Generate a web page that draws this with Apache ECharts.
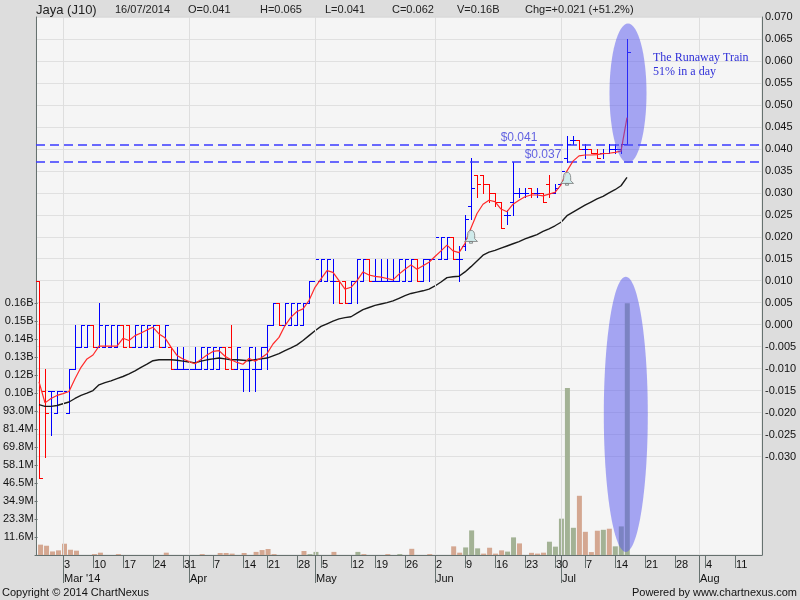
<!DOCTYPE html>
<html><head><meta charset="utf-8">
<script src="https://cdn.jsdelivr.net/npm/echarts@6/dist/echarts.min.js"></script>
<style>html,body{margin:0;padding:0;background:#dddddd;}#c{width:800px;height:600px;}</style>
</head><body><div id="c"></div>
<script>
// ---- categories: trading days (2014) ----
const daysFeb = [25,26,27,28];
const daysMar = [3,4,5,6,7,10,11,12,13,14,17,18,19,20,21,24,25,26,27,28,31];
const daysApr = [1,2,3,4,7,8,9,10,11,14,15,16,17,21,22,23,24,25,28,29,30];
const daysMay = [2,5,6,7,8,9,12,14,15,16,19,20,21,22,23,26,27,28,29,30];
const daysJun = [2,3,4,5,6,9,10,11,12,13,16,17,18,19,20,23,24,25,26,27,30];
const daysJul = [1,2,3,4,7,8,9,10,11,14,15,16,17,18,21,22,23,24,25,28,29,30,31];
const daysAug = [1,4,5,6,7,8,11,12,13,14,15];
const monthNames = ["Mar '14","Apr","May","Jun","Jul","Aug"];

// ---- OHLC ----
const open = [0.010,-0.015,-0.015,-0.020,-0.015,-0.020,-0.010,-0.005,-0.005,0.000,
 -0.005,-0.005,-0.005,-0.005,0.000,0.000,-0.005,-0.005,-0.005,-0.005,
 0.000,-0.005,-0.005,-0.010,-0.010,-0.010,-0.010,-0.010,-0.010,-0.010,
 -0.010,-0.005,-0.005,-0.010,-0.010,-0.010,-0.010,-0.010,-0.005,0.000,
 0.005,0.000,0.000,0.000,0.000,0.005,0.010,0.010,0.010,0.010,
 0.010,0.010,0.005,0.010,0.010,0.015,0.010,0.010,0.010,0.010,
 0.010,0.010,0.010,0.015,0.010,0.015,0.015,0.015,0.015,0.020,
 0.015,0.018,0.027,0.034,0.034,0.032,0.030,0.028,0.025,0.028,
 0.030,0.030,0.031,0.030,0.030,0.032,0.030,0.032,0.038,0.042,
 0.042,0.040,0.040,0.039,0.039,0.039,0.040,0.040,0.041];
const high = [0.010,-0.010,-0.015,-0.015,-0.015,-0.010,0.000,0.000,0.000,0.000,
 0.005,0.000,0.000,0.000,0.000,0.000,0.000,0.000,0.000,0.000,
 0.000,0.000,-0.005,-0.005,-0.005,-0.005,-0.005,-0.005,-0.005,-0.005,
 -0.005,-0.005,0.000,-0.005,-0.010,-0.005,-0.005,-0.005,0.000,0.005,
 0.005,0.005,0.005,0.005,0.005,0.010,0.015,0.015,0.015,0.015,
 0.010,0.010,0.010,0.015,0.015,0.015,0.015,0.015,0.015,0.015,
 0.015,0.015,0.015,0.015,0.015,0.015,0.020,0.020,0.020,0.020,
 0.018,0.025,0.038,0.034,0.034,0.032,0.030,0.028,0.026,0.037,
 0.031,0.031,0.031,0.031,0.030,0.034,0.032,0.037,0.043,0.043,
 0.042,0.041,0.040,0.040,0.040,0.041,0.041,0.041,0.065];
const low = [-0.035,-0.030,-0.025,-0.020,-0.020,-0.020,-0.010,-0.005,-0.005,-0.005,
 -0.005,-0.005,-0.005,-0.005,-0.005,-0.005,-0.005,-0.005,-0.005,-0.005,
 -0.005,-0.005,-0.010,-0.010,-0.010,-0.010,-0.010,-0.010,-0.010,-0.010,
 -0.010,-0.010,-0.010,-0.010,-0.015,-0.015,-0.015,-0.010,-0.010,0.000,
 0.000,0.000,0.000,0.000,0.000,0.005,0.005,0.010,0.010,0.005,
 0.005,0.005,0.005,0.005,0.010,0.010,0.010,0.010,0.010,0.010,
 0.010,0.010,0.010,0.010,0.010,0.010,0.015,0.015,0.015,0.015,
 0.010,0.017,0.024,0.029,0.030,0.028,0.027,0.022,0.023,0.025,
 0.029,0.029,0.029,0.029,0.028,0.029,0.030,0.031,0.037,0.041,
 0.040,0.038,0.039,0.038,0.038,0.039,0.039,0.039,0.041];
const close = [-0.035,-0.020,-0.015,-0.015,-0.015,-0.010,-0.005,0.000,0.000,-0.005,
 0.000,0.000,0.000,0.000,-0.005,-0.005,0.000,0.000,0.000,0.000,
 -0.005,0.000,-0.010,-0.010,-0.010,-0.010,-0.010,-0.005,-0.005,-0.005,
 -0.005,-0.010,-0.010,-0.005,-0.010,-0.005,-0.010,-0.005,0.000,0.005,
 0.000,0.005,0.005,0.005,0.005,0.010,0.015,0.015,0.015,0.010,
 0.005,0.005,0.010,0.015,0.015,0.010,0.010,0.010,0.010,0.010,
 0.015,0.015,0.015,0.010,0.015,0.015,0.020,0.020,0.020,0.015,
 0.015,0.024,0.031,0.032,0.032,0.030,0.028,0.022,0.025,0.030,
 0.030,0.030,0.030,0.030,0.028,0.030,0.031,0.035,0.041,0.042,
 0.040,0.040,0.039,0.038,0.039,0.040,0.040,0.041,0.062];

// ---- moving averages ----
const maShort = [-0.0130,-0.0178,-0.0168,-0.0161,-0.0157,-0.0152,-0.0123,-0.0097,-0.0078,-0.0069,
 -0.0049,-0.0049,-0.0049,-0.0049,-0.0031,-0.0036,-0.0025,-0.0019,-0.0012,-0.0006,
 -0.0021,-0.0030,-0.0051,-0.0070,-0.0078,-0.0084,-0.0089,-0.0079,-0.0069,-0.0061,
 -0.0059,-0.0072,-0.0080,-0.0086,-0.0090,-0.0077,-0.0083,-0.0076,-0.0066,-0.0044,
 -0.0029,-0.0002,0.0017,0.0030,0.0036,0.0055,0.0085,0.0104,0.0123,0.0119,
 0.0100,0.0081,0.0085,0.0100,0.0120,0.0113,0.0110,0.0108,0.0105,0.0102,
 0.0115,0.0126,0.0136,0.0126,0.0134,0.0142,0.0155,0.0168,0.0181,0.0168,
 0.0164,0.0185,0.0220,0.0253,0.0274,0.0283,0.0280,0.0263,0.0257,0.0274,
 0.0283,0.0291,0.0295,0.0295,0.0293,0.0297,0.0301,0.0318,0.0350,0.0372,
 0.0384,0.0386,0.0386,0.0387,0.0389,0.0390,0.0392,0.0395,0.0471];
const maLong = [-0.0182,-0.0186,-0.0186,-0.0184,-0.0180,-0.0176,-0.0168,-0.0161,-0.0156,-0.0150,
 -0.0137,-0.0132,-0.0128,-0.0123,-0.0118,-0.0112,-0.0105,-0.0097,-0.0090,-0.0082,
 -0.0080,-0.0080,-0.0080,-0.0081,-0.0083,-0.0085,-0.0087,-0.0083,-0.0080,-0.0078,
 -0.0076,-0.0078,-0.0080,-0.0080,-0.0081,-0.0082,-0.0080,-0.0078,-0.0076,-0.0071,
 -0.0066,-0.0059,-0.0053,-0.0046,-0.0036,-0.0025,-0.0014,-0.0004,0.0002,0.0008,
 0.0013,0.0016,0.0018,0.0026,0.0034,0.0039,0.0044,0.0047,0.0050,0.0054,
 0.0060,0.0066,0.0071,0.0074,0.0077,0.0081,0.0088,0.0097,0.0107,0.0109,
 0.0110,0.0120,0.0132,0.0145,0.0158,0.0165,0.0169,0.0174,0.0179,0.0184,
 0.0189,0.0195,0.0200,0.0205,0.0212,0.0218,0.0225,0.0233,0.0248,0.0256,
 0.0264,0.0272,0.0279,0.0286,0.0292,0.0300,0.0307,0.0316,0.0335];

// ---- volume (millions) and bar colour key (t = tan, g = green) ----
const volume = [6.7,6.0,2.3,3.0,7.3,3.4,2.8,0,0,0.6,
 1.5,0,0,0.6,0,0,0,0,0,0,
 0,1.5,0,0,0,0,0,0.6,0,0,
 1.3,1.3,0.9,0,1.3,0,2.0,3.2,3.9,0.6,
 0,0,0,0,2.6,0.6,2.0,0,0,2.0,
 0,0,0,2.0,0.6,0,0,0,0.6,0,
 0.6,0,4.0,0,0,0.6,0,0,0,5.6,
 1.5,4.9,15.9,4.3,0.9,4.7,0.9,3.0,2.2,11.4,
 7.5,0,1.4,0.9,1.5,8.6,5.4,23.5,108.0,17.6,
 38.3,15.0,1.9,15.7,16.3,17.0,5.6,18.5,162.8];
const volumeColorKey = ('tttttttttt'+'tttttttttt'+'tttttttttt'+'tttttttttt'+'tttttggttt'+
 'tttgtttttt'+'gttttttttt'+'tgggttttgg'+'tttttggggg'+'ttttgtggg').split('');

// ---- annotations ----
const levels = [0.041, 0.037];
const levelLabelDay = [80, 84];
const alerts = [[72, 0.0200], [88, 0.0332]];
const priceHighlight = [0.0685, 0.0368];   // price range of the upper oval
const volumeHighlight = [180, 2];          // volume range of the lower oval (M)
const volumeTop = 162.8;                   // top label of volume axis (M)

// ---- build ----
const dates = [];
[[2,daysFeb],[3,daysMar],[4,daysApr],[5,daysMay],[6,daysJun],[7,daysJul],[8,daysAug]].forEach(([m,arr])=>{
  arr.forEach(d=>dates.push('2014-'+String(m).padStart(2,'0')+'-'+String(d).padStart(2,'0')));
});
const wd = s => new Date(s+'T00:00:00Z').getUTCDay();
const isWeekStart = i => i>0 && wd(dates[i]) < wd(dates[i-1]);
const isMonthStart = i => i>0 && dates[i].slice(5,7) !== dates[i-1].slice(5,7);
const monthStartIdx = dates.map((d,i)=>i).filter(isMonthStart);
const monthLabel = {}; monthStartIdx.forEach((i,k)=>monthLabel[dates[i]] = monthNames[k]);

const ohlc = open.map((o,i)=>[i,o,high[i],low[i],close[i]]);
const volStep = volumeTop/14;
const axisCol = '#66716f';
const FONT = '"Liberation Sans", Arial, sans-serif';
const UP = '#0000ff', DOWN = '#ff0000';

const L = 36, R = 38, T = 17, B = 45;

const option = {
  backgroundColor: '#dddddd',
  animation: false,
  grid: [
    {left:L, right:R, top:T, bottom:B, show:true, backgroundColor:'#f5f5f5', borderColor:'#d6d6d6', borderWidth:1},
    {left:L, right:R, top:T, bottom:143.5},
    {left:L, right:R, top:303.3, bottom:B}
  ],
  xAxis: [
    {gridIndex:0, type:'category', data:dates, boundaryGap:true,
     axisLine:{show:true, lineStyle:{color:axisCol, width:1}},
     axisTick:{show:true, alignWithLabel:true, interval:(i)=>isWeekStart(i), length:13, lineStyle:{color:axisCol}},
     axisLabel:{show:true, interval:(i)=>isWeekStart(i), formatter:v=>String(Number(v.slice(8))),
       align:'left', margin:4, padding:[0,0,0,1], fontSize:11, color:'#111', fontFamily:FONT},
     splitLine:{show:false}},
    {gridIndex:0, type:'category', data:dates, boundaryGap:true, position:'bottom',
     axisLine:{show:false},
     axisTick:{show:true, alignWithLabel:true, interval:(i)=>isMonthStart(i), length:28, lineStyle:{color:axisCol}},
     axisLabel:{show:true, interval:(i)=>isMonthStart(i), formatter:v=>monthLabel[v]||'',
       align:'left', margin:18, padding:[0,0,0,1], fontSize:11, color:'#111', fontFamily:FONT},
     splitLine:{show:false}},
    {gridIndex:1, type:'category', data:dates, boundaryGap:true, show:false},
    {gridIndex:2, type:'category', data:dates, boundaryGap:true, show:false}
  ],
  yAxis: [
    {gridIndex:0, type:'value', min:0, max:1, position:'left',
     axisLine:{show:true, lineStyle:{color:axisCol}}, axisTick:{show:false}, axisLabel:{show:false}, splitLine:{show:false}},
    {gridIndex:0, type:'value', min:0, max:1, position:'right',
     axisLine:{show:true, lineStyle:{color:axisCol}}, axisTick:{show:false}, axisLabel:{show:false}, splitLine:{show:false}},
    {gridIndex:1, type:'value', min:-0.030, max:0.070, interval:0.005, position:'right',
     axisLine:{show:false}, axisTick:{show:false},
     axisLabel:{margin:3, fontSize:11, color:'#111', fontFamily:FONT, formatter:v=>v.toFixed(3)},
     splitLine:{show:true, lineStyle:{color:'#e0e0e0', width:1}}},
    {gridIndex:2, type:'value', min:0, max:volumeTop, interval:volStep, position:'left',
     axisLine:{show:false}, axisTick:{show:true, length:3, lineStyle:{color:axisCol}},
     axisLabel:{margin:4, fontSize:11, color:'#111', fontFamily:FONT,
       formatter:v=> v<0.01 ? '' : (v>=99.5 ? (v/1000).toFixed(2)+'B' : v.toFixed(1)+'M')},
     splitLine:{show:false}}
  ],
  series: [
    {type:'line', xAxisIndex:0, yAxisIndex:0, data:dates.map(()=>null), silent:true, z:1,
     markLine:{silent:true, symbol:'none', label:{show:false},
       lineStyle:{color:'#dedede', width:1, type:'solid'},
       data: monthStartIdx.map(i=>({xAxis:dates[i]}))}},
    {type:'custom', xAxisIndex:2, yAxisIndex:2, data:ohlc, z:3, clip:false, silent:true,
     encode:{x:0, y:[1,2,3,4]},
     itemStyle:{color:UP},
     renderItem:(params, api)=>{
       const i = api.value(0), o = api.value(1), h = api.value(2), l = api.value(3), c = api.value(4);
       const ph = api.coord([i,h]), pl = api.coord([i,l]), po = api.coord([i,o]), pc = api.coord([i,c]);
       const x = Math.round(ph[0]) + 0.5;
       const yh = Math.round(ph[1]), yl = Math.round(pl[1]);
       const yo = Math.round(po[1]) + 0.5, yc = Math.round(pc[1]) + 0.5;
       const col = c < o ? DOWN : UP;
       const path = 'M' + (x-3.5) + ' ' + yo + 'L' + x + ' ' + yo +
                    'M' + x + ' ' + yh + 'L' + x + ' ' + (yl+1) +
                    'M' + x + ' ' + yc + 'L' + (x+3.5) + ' ' + yc;
       return {type:'path', shape:{pathData:path}, style:{stroke:col, fill:'none', lineWidth:1}};
     }},
    {type:'line', xAxisIndex:2, yAxisIndex:2, data:maLong, showSymbol:false, z:4, silent:true,
     lineStyle:{color:'#1a1a1a', width:1.4},
     markLine:{silent:true, symbol:'none', precision:3, label:{show:false},
       lineStyle:{color:'#3a3aff', type:[9,5], width:1.6},
       data: levels.map(v=>({yAxis:v}))}},
    {type:'line', xAxisIndex:2, yAxisIndex:2, data:maShort, showSymbol:false, z:5, silent:true,
     lineStyle:{color:'#ff2a2a', width:1.2}},
    {type:'scatter', xAxisIndex:2, yAxisIndex:2, symbolSize:0, z:6, silent:true,
     data: levels.map((v,k)=>[levelLabelDay[k], v]),
     label:{show:true, position:'top', distance:1, formatter:p=>'$'+p.value[1].toFixed(3),
       color:'#3c3cdc', fontSize:12, fontFamily:FONT}},
    {type:'scatter', xAxisIndex:2, yAxisIndex:2, z:7, silent:true, data:alerts,
     symbol:'path://M7,0.5 C4.6,0.5 3.6,2.6 3.6,5 L3.6,7.6 L1,10 L13,10 L10.4,7.6 L10.4,5 C10.4,2.6 9.4,0.5 7,0.5 Z M5.6,10 L5.6,11.5 L8.4,11.5 L8.4,10 Z',
     symbolSize:[13,13], itemStyle:{color:'#c6e8e8', borderColor:'#7c7c7c', borderWidth:1}},
    {type:'bar', xAxisIndex:3, yAxisIndex:3, data:volume, barWidth:5, z:3, silent:true,
     itemStyle:{color:p=> volumeColorKey[p.dataIndex]==='g' ? '#a3b295' : '#d4a791'}}
  ]
};

const chart = echarts.init(document.getElementById('c'), null, {renderer:'canvas'});
chart.setOption(option);

const last = open.length - 1;
const pT = chart.convertToPixel({seriesIndex:1}, [last, priceHighlight[0]]);
const pB = chart.convertToPixel({seriesIndex:1}, [last, priceHighlight[1]]);
const vT = chart.convertToPixel({seriesIndex:6}, [last, volumeHighlight[0]]);
const vB = chart.convertToPixel({seriesIndex:6}, [last, volumeHighlight[1]]);

const chg = close[last] - close[last-1];
const pct = chg / close[last-1] * 100;
const d = dates[last];
// [left x, text, font size]
const hdr = [
  [36, 'Jaya (J10)', 13],
  [115, d.slice(8,10)+'/'+d.slice(5,7)+'/'+d.slice(0,4), 11],
  [188, 'O='+open[last].toFixed(3), 11],
  [260, 'H='+high[last].toFixed(3), 11],
  [325, 'L='+low[last].toFixed(3), 11],
  [392, 'C='+close[last].toFixed(3), 11],
  [457, 'V='+(volume[last]/1000).toFixed(2)+'B', 11],
  [525, 'Chg='+(chg>=0?'+':'')+chg.toFixed(3)+' ('+(pct>=0?'+':'')+pct.toFixed(1)+'%)', 11]
];
const graphics = hdr.map(h=>({type:'text', z:50,
  style:{text:h[1], x:h[0], y:10, verticalAlign:'middle', font:h[2]+'px '+FONT, fill:'#222'}}));
graphics.push(
  {type:'text', z:50, style:{text:'Copyright \u00a9 2014 ChartNexus', x:2, y:593, verticalAlign:'middle', font:'11px '+FONT, fill:'#111'}},
  {type:'text', z:50, style:{text:'Powered by www.chartnexus.com', x:797, y:593, align:'right', verticalAlign:'middle', font:'11px '+FONT, fill:'#111'}},
  {type:'ellipse', z:60, silent:true, shape:{cx:pT[0]+1, cy:(pT[1]+pB[1])/2, rx:18.5, ry:(pB[1]-pT[1])/2}, style:{fill:'rgba(84,84,240,0.5)'}},
  {type:'ellipse', z:60, silent:true, shape:{cx:vT[0]-1.5, cy:(vT[1]+vB[1])/2, rx:22, ry:(vB[1]-vT[1])/2}, style:{fill:'rgba(84,84,240,0.5)'}},
  {type:'text', z:61, style:{text:'The Runaway Train\n51% in a day', x:653, y:51, lineHeight:14,
    font:'12px "Liberation Serif", "Times New Roman", serif', fill:'#3030d8'}}
);
chart.setOption({graphic: graphics});
</script>
</body></html>
